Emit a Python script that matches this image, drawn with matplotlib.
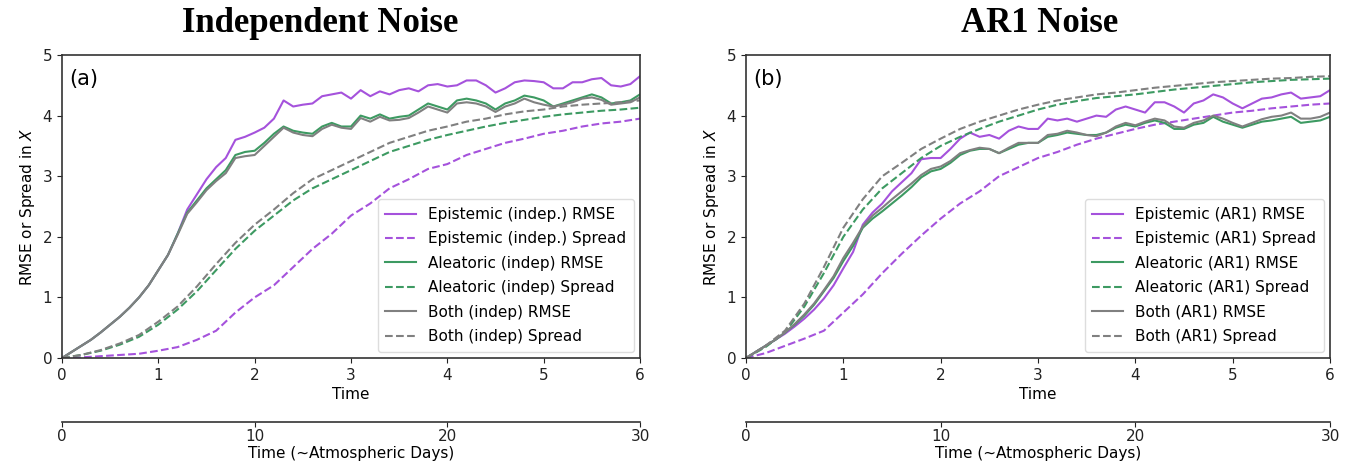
import numpy as np
import matplotlib
matplotlib.use("Agg")
import matplotlib.pyplot as plt

# ---- time grids ----
t_rmse = np.round(np.arange(0, 6.01, 0.1), 2)
t_spread = np.round(np.arange(0, 6.01, 0.2), 2)

# ---- (a) independent noise ----
indep_epi_rmse = [
    0, 0.1, 0.2, 0.3, 0.42, 0.55, 0.68, 0.83, 1.0, 1.2,
    1.45, 1.7, 2.05, 2.45, 2.7, 2.95, 3.15, 3.3, 3.6, 3.65,
    3.72, 3.8, 3.95, 4.25, 4.15, 4.18, 4.2, 4.32, 4.35, 4.38,
    4.28, 4.42, 4.32, 4.4, 4.35, 4.42, 4.45, 4.4, 4.5, 4.52,
    4.48, 4.5, 4.58, 4.58, 4.5, 4.38, 4.45, 4.55, 4.58, 4.57,
    4.55, 4.45, 4.45, 4.55, 4.55, 4.6, 4.62, 4.5, 4.48, 4.52,
    4.65]
indep_ale_rmse = [
    0, 0.1, 0.2, 0.3, 0.42, 0.55, 0.68, 0.83, 1.0, 1.2,
    1.45, 1.7, 2.05, 2.4, 2.6, 2.8, 2.95, 3.1, 3.35, 3.4,
    3.42, 3.55, 3.7, 3.82, 3.75, 3.72, 3.7, 3.82, 3.88, 3.82,
    3.82, 4.0, 3.95, 4.02, 3.95, 3.98, 4.0, 4.1, 4.2, 4.15,
    4.1, 4.25, 4.28, 4.25, 4.2, 4.1, 4.2, 4.25, 4.33, 4.3,
    4.25, 4.15, 4.2, 4.25, 4.3, 4.35, 4.3, 4.2, 4.22, 4.25,
    4.35]
indep_both_rmse = [
    0, 0.1, 0.2, 0.3, 0.42, 0.55, 0.68, 0.83, 1.0, 1.2,
    1.45, 1.7, 2.03, 2.38, 2.57, 2.77, 2.92, 3.05, 3.3, 3.33,
    3.35, 3.5, 3.65, 3.8, 3.72, 3.68, 3.66, 3.78, 3.85, 3.8,
    3.78, 3.96, 3.9, 3.98, 3.92, 3.93, 3.96, 4.05, 4.15, 4.1,
    4.05, 4.2, 4.22, 4.2, 4.15, 4.06, 4.15, 4.2, 4.28, 4.22,
    4.18, 4.15, 4.18, 4.22, 4.28, 4.3, 4.26, 4.18, 4.2, 4.22,
    4.3]
indep_epi_spread = [
    0, 0.01, 0.03, 0.05, 0.07, 0.12, 0.18, 0.3, 0.45, 0.75,
    1.0, 1.2, 1.5, 1.8, 2.05, 2.35, 2.55, 2.8, 2.95, 3.12,
    3.2, 3.35, 3.45, 3.55, 3.62, 3.7, 3.75, 3.82, 3.87, 3.9,
    3.95]
indep_ale_spread = [
    0, 0.05, 0.12, 0.22, 0.35, 0.55, 0.8, 1.1, 1.45, 1.8,
    2.1, 2.35, 2.6, 2.8, 2.95, 3.1, 3.25, 3.4, 3.5, 3.6,
    3.68, 3.75, 3.82, 3.88, 3.93, 3.98, 4.02, 4.05, 4.08, 4.1,
    4.13]
indep_both_spread = [
    0, 0.05, 0.13, 0.24, 0.38, 0.6, 0.85, 1.18, 1.55, 1.9,
    2.2, 2.45, 2.72, 2.95, 3.1, 3.25, 3.4, 3.55, 3.65, 3.75,
    3.82, 3.9, 3.95, 4.02, 4.07, 4.1, 4.15, 4.18, 4.2, 4.22,
    4.25]

# ---- (b) AR1 noise ----
ar1_epi_rmse = [
    0, 0.1, 0.2, 0.3, 0.4, 0.52, 0.65, 0.8, 0.98, 1.2,
    1.48, 1.75, 2.2, 2.4, 2.55, 2.75, 2.9, 3.05, 3.28, 3.3,
    3.3, 3.45, 3.62, 3.72, 3.65, 3.68, 3.62, 3.75, 3.82, 3.78,
    3.78, 3.95, 3.92, 3.95, 3.9, 3.95, 4.0, 3.98, 4.1, 4.15,
    4.1, 4.05, 4.22, 4.22, 4.15, 4.05, 4.2, 4.25, 4.35, 4.3,
    4.2, 4.12, 4.2, 4.28, 4.3, 4.35, 4.38, 4.28, 4.3, 4.32,
    4.42]
ar1_ale_rmse = [
    0, 0.1, 0.2, 0.3, 0.42, 0.55, 0.7, 0.88, 1.1, 1.32,
    1.6, 1.85, 2.15, 2.3, 2.42, 2.55, 2.68, 2.82, 2.98, 3.08,
    3.12, 3.22, 3.35, 3.42, 3.45, 3.45, 3.38, 3.45, 3.52, 3.55,
    3.55, 3.65, 3.68, 3.72, 3.7, 3.68, 3.68, 3.72, 3.8, 3.85,
    3.82, 3.88, 3.92, 3.88, 3.78, 3.78, 3.85, 3.88, 3.98, 3.9,
    3.85, 3.8, 3.85, 3.9, 3.92, 3.95, 3.98, 3.88, 3.9, 3.92,
    3.98]
ar1_both_rmse = [
    0, 0.1, 0.2, 0.3, 0.42, 0.56, 0.72, 0.9, 1.12, 1.35,
    1.65, 1.9, 2.17, 2.35, 2.48, 2.62, 2.75, 2.88, 3.02, 3.12,
    3.16, 3.25, 3.38, 3.43, 3.47, 3.45, 3.38, 3.47, 3.55, 3.55,
    3.55, 3.68, 3.7, 3.75, 3.72, 3.68, 3.66, 3.72, 3.82, 3.88,
    3.84, 3.9, 3.95, 3.92, 3.82, 3.8, 3.88, 3.92, 4.0, 3.95,
    3.88, 3.82, 3.88, 3.94, 3.98, 4.0, 4.05, 3.95, 3.95, 3.98,
    4.05]
ar1_epi_spread = [
    0, 0.08, 0.2, 0.32, 0.45, 0.75, 1.05, 1.4, 1.72, 2.02,
    2.3, 2.55, 2.75, 3.0, 3.15, 3.3, 3.4, 3.52, 3.62, 3.7,
    3.78, 3.85, 3.9, 3.95, 4.0, 4.05, 4.08, 4.12, 4.15, 4.18,
    4.2]
ar1_ale_spread = [
    0, 0.18, 0.42, 0.85, 1.4, 2.0, 2.45, 2.8, 3.05, 3.3,
    3.5, 3.65, 3.78, 3.9, 4.0, 4.1, 4.18, 4.24, 4.29, 4.32,
    4.35, 4.39, 4.43, 4.46, 4.49, 4.52, 4.55, 4.57, 4.59, 4.6,
    4.61]
ar1_both_spread = [
    0, 0.2, 0.45, 0.9, 1.5, 2.15, 2.62, 3.0, 3.22, 3.45,
    3.62, 3.78, 3.9, 4.0, 4.1, 4.18, 4.25, 4.3, 4.35, 4.38,
    4.42, 4.46, 4.49, 4.52, 4.55, 4.57, 4.59, 4.61, 4.62, 4.64,
    4.65]

PURPLE = "#a552dc"
GREEN = "#3d9a62"
GRAY = "#808080"

W, H = 1351, 466
fig = plt.figure(figsize=(W / 100, H / 100), dpi=100)


def px_axes(x0, x1, y0, y1):
    return fig.add_axes([x0 / W, 1 - y1 / H, (x1 - x0) / W, (y1 - y0) / H])


def panel(ax, tag, name, epi_r, epi_s, ale_r, ale_s, both_r, both_s):
    lw = 1.5
    short = name.replace('.', '')
    ax.plot(t_rmse, epi_r, color=PURPLE, lw=lw, label=f"Epistemic {name} RMSE")
    ax.plot(t_spread, epi_s, color=PURPLE, lw=lw, ls="--", label=f"Epistemic {name} Spread")
    ax.plot(t_rmse, ale_r, color=GREEN, lw=lw, label=f"Aleatoric {short} RMSE")
    ax.plot(t_spread, ale_s, color=GREEN, lw=lw, ls="--", label=f"Aleatoric {short} Spread")
    ax.plot(t_rmse, both_r, color=GRAY, lw=lw, label=f"Both {short} RMSE")
    ax.plot(t_spread, both_s, color=GRAY, lw=lw, ls="--", label=f"Both {short} Spread")
    ax.set_xlim(0, 6)
    ax.set_ylim(0, 5)
    ax.set_xticks(range(7))
    ax.set_yticks(range(6))
    ax.tick_params(labelsize=11, colors="#222222")
    for s in ax.spines.values():
        s.set_color("#333333")
        s.set_linewidth(1.2)
    ax.set_xlabel("Time", fontsize=11, labelpad=3)
    ax.set_ylabel("RMSE or Spread in $X$", fontsize=11)
    ax.text(0.012, 0.955, tag, transform=ax.transAxes, fontsize=15, va="top", ha="left")
    leg = ax.legend(loc="lower right", fontsize=11, framealpha=1, edgecolor="#dddddd",
                    handlelength=2.0, borderaxespad=0.4, labelspacing=0.62,
                    borderpad=0.5)
    leg.get_frame().set_linewidth(1.0)
    sec = ax.secondary_xaxis(-0.21, functions=(lambda x: x * 5, lambda x: x / 5))
    sec.set_xticks([0, 10, 20, 30])
    sec.tick_params(labelsize=11, colors="#222222", pad=2)
    sec.spines["bottom"].set_color("#333333")
    sec.spines["bottom"].set_linewidth(1.2)
    sec.set_xlabel("Time (~Atmospheric Days)", fontsize=11, labelpad=1)


ax1 = px_axes(62, 640, 55, 358)
ax2 = px_axes(746, 1330, 55, 358)
panel(ax1, "(a)", "(indep.)", indep_epi_rmse, indep_epi_spread, indep_ale_rmse,
      indep_ale_spread, indep_both_rmse, indep_both_spread)
panel(ax2, "(b)", "(AR1)", ar1_epi_rmse, ar1_epi_spread, ar1_ale_rmse,
      ar1_ale_spread, ar1_both_rmse, ar1_both_spread)

title_kw = dict(fontsize=25, fontweight="bold", family="Liberation Serif",
                ha="center", va="center")
fig.text(320 / W, 1 - 24 / H, "Independent Noise", **title_kw)
fig.text(1040 / W, 1 - 24 / H, "AR1 Noise", **title_kw)

fig.savefig("out.png", dpi=100)
